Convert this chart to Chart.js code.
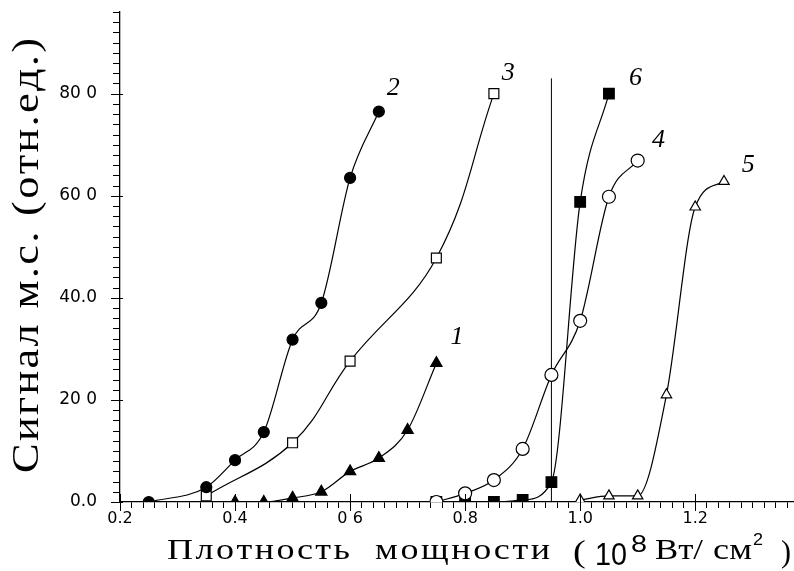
<!DOCTYPE html>
<html>
<head>
<meta charset="utf-8">
<script src="https://cdn.jsdelivr.net/npm/chart.js@4"></script>
<style>
  body { margin: 0; background: #fff; }
  canvas { display: block; }
</style>
</head>
<body>
<canvas id="chart" width="794" height="571"></canvas>
<script>
// values
var x1 = [0.40, 0.45, 0.50, 0.55, 0.60, 0.65, 0.70, 0.75];
var y1 = [0, 0, 0.8, 2.0, 6.0, 8.6, 14.1, 27.2];
var x2 = [0.25, 0.35, 0.40, 0.45, 0.50, 0.55, 0.60, 0.65];
var y2 = [0, 2.9, 8.2, 13.7, 31.8, 39.0, 63.5, 76.5];
var x3 = [0.35, 0.50, 0.60, 0.75, 0.85];
var y3 = [1.2, 11.6, 27.6, 47.8, 80.0];
var x4 = [0.75, 0.80, 0.85, 0.90, 0.95, 1.00, 1.05, 1.10];
var y4 = [0, 1.7, 4.3, 10.4, 24.9, 35.5, 59.8, 66.9];
var x5 = [1.00, 1.05, 1.10, 1.15, 1.20, 1.25];
var y5 = [0.4, 1.2, 1.2, 21.0, 57.8, 62.8];
var x6 = [0.75, 0.80, 0.85, 0.90, 0.95, 1.00, 1.05];
var y6 = [0, 0, 0, 0.4, 3.9, 58.8, 80.0];
var markX = [0.95, 0.95];
var markY = [0, 83];

var xTicks = [0.2, 0.4, 0.6, 0.8, 1.0, 1.2];
var xTickLabels = ["0.2", "0.4", "0 6", "0.8", "1.0", "1.2"];
var yTicks = [0, 20, 40, 60, 80];
var yTickLabels = ["0.0", "20 0", "40.0", "60 0", "80 0"];

var curveNames = ["1", "2", "3", "4", "5", "6"];
var nameX = [0.786, 0.675, 0.875, 1.136, 1.292, 1.096];
var nameY = [32.3, 81, 84, 70.8, 66, 83];

var yTitle = "Сигнал м.с. (отн.ед.)";

function pts(xs, ys) {
    return xs.map(function(x, i) {return {x: x, y: ys[i]};});
}

function series(xs, ys, style, r, fill, mode) {
    return {
        data: pts(xs, ys),
        borderColor: "#000",
        borderWidth: 1.2,
        pointStyle: style,
        pointRadius: r,
        pointBackgroundColor: fill,
        pointBorderColor: "#000",
        pointBorderWidth: 1.2,
        cubicInterpolationMode: mode || "monotone",
        tension: 0.4,
        fill: false
    };
}

function labelFor(list, labels, value) {
    for (var i = 0; i < list.length; i++) {
        if (Math.abs(list[i] - value) < 1e-6) return labels[i];
    }
    return "";
}

// draws text so that it spans exactly from left to right (typewriter look):
// glyphs are widened a little, the rest goes into the gaps
function fitText(ctx, text, left, right, base, font) {
    ctx.font = font;
    var chars = Array.from(text);
    var widths = chars.map(function(c) {return ctx.measureText(c).width;});
    var total = widths.reduce(function(a, b) {return a + b;}, 0);
    var target = right - left;
    var sx = Math.min(target / total, 1.2), gap = 0;
    if (chars.length > 1) gap = (target - total * sx) / (chars.length - 1);
    var x = left;
    chars.forEach(function(c, i) {
        ctx.save();
        ctx.translate(x, base);
        ctx.scale(sx, 1);
        ctx.fillText(c, 0, 0);
        ctx.restore();
        x += widths[i] * sx + gap;
    });
}

var textPlugin = {
    id: "texts",
    afterDatasetsDraw: function(chart) {
        var ctx = chart.ctx;
        var sx = chart.scales.x, sy = chart.scales.y;
        ctx.save();
        ctx.fillStyle = "#000";
        ctx.strokeStyle = "#000";
        ctx.lineWidth = 1;

        // major x ticks cross the axis line
        ctx.beginPath();
        xTicks.forEach(function(v) {
            var px = Math.round(sx.getPixelForValue(v)) + 0.5;
            ctx.moveTo(px, sy.bottom - 8);
            ctx.lineTo(px, sy.bottom + 9);
        });
        // y ticks, short, left of the axis
        sy.ticks.forEach(function(t) {
            var py = Math.round(sy.getPixelForValue(t.value)) + 0.5;
            var major = labelFor(yTicks, yTickLabels, t.value) !== "";
            ctx.moveTo(sx.left - (major ? 9 : 7), py);
            ctx.lineTo(sx.left + (major ? 3 : 0), py);
        });
        ctx.stroke();

        ctx.font = 'italic 26px "Liberation Serif"';
        ctx.textAlign = "center";
        ctx.textBaseline = "middle";
        for (var i = 0; i < curveNames.length; i++) {
            ctx.fillText(curveNames[i], sx.getPixelForValue(nameX[i]), sy.getPixelForValue(nameY[i]));
        }

        ctx.textAlign = "left";
        ctx.textBaseline = "alphabetic";
        var serif = '30px "Liberation Serif"';
        fitText(ctx, "Плотность", 167, 350, 559, serif);
        fitText(ctx, "мощности", 375, 550, 559, serif);
        fitText(ctx, "(", 573, 586, 562, '32px "Liberation Serif"');
        fitText(ctx, "10", 595, 627, 565, '31px "Liberation Sans"');
        fitText(ctx, "8", 631, 647, 552, '24px "Liberation Sans"');
        fitText(ctx, "Вт/", 655, 703, 559, serif);
        fitText(ctx, "см", 713, 752, 559, serif);
        fitText(ctx, "2", 753, 763, 545, '17px "Liberation Sans"');
        fitText(ctx, ")", 781, 791, 562, '32px "Liberation Serif"');

        ctx.translate(38, 473);
        ctx.rotate(-Math.PI / 2);
        fitText(ctx, yTitle, 0, 435, 0, '37px "Liberation Serif"');
        ctx.restore();
    }
};

new Chart(document.getElementById("chart"), {
    type: "line",
    data: {
        datasets: [
            series(x1, y1, "triangle", 6.5, "#000"),
            series(x2, y2, "circle", 5.5, "#000"),
            series(x3, y3, "rect", 7, "#fff", "default"),
            series(x4, y4, "circle", 6.5, "#fff"),
            series(x5, y5, "triangle", 6, "#fff"),
            series(x6, y6, "rect", 7.5, "#000"),
            {
                data: pts(markX, markY),
                borderColor: "#000",
                borderWidth: 1,
                pointRadius: 0
            }
        ]
    },
    options: {
        responsive: false,
        animation: false,
        devicePixelRatio: 1,
        layout: {autoPadding: false, padding: {top: 12, right: 1, left: 0, bottom: 0}},
        plugins: {legend: {display: false}, tooltip: {enabled: false}},
        scales: {
            x: {
                type: "linear",
                min: 0.2,
                max: 1.37,
                afterBuildTicks: function(scale) {
                    var t = [];
                    for (var i = 10; i <= 68; i++) t.push({value: i / 50});
                    scale.ticks = t;
                },
                afterFit: function(scale) {scale.height = 69;},
                grid: {drawOnChartArea: false, color: "#000", tickLength: 6, tickWidth: 1},
                border: {color: "#000", width: 1.3},
                ticks: {
                    autoSkip: false,
                    maxRotation: 0,
                    color: "#000",
                    padding: 1,
                    font: {family: "DejaVu Sans", size: 16},
                    callback: function(value) {return labelFor(xTicks, xTickLabels, value);}
                },
                title: {display: false}
            },
            y: {
                type: "linear",
                min: 0,
                max: 96,
                afterBuildTicks: function(scale) {
                    var t = [];
                    for (var i = 0; i <= 48; i++) t.push({value: i * 2});
                    scale.ticks = t;
                },
                afterFit: function(scale) {scale.width = 120;},
                grid: {drawOnChartArea: false, color: "#000", tickColor: "rgba(0,0,0,0)", tickLength: 20, tickWidth: 1},
                border: {color: "#000", width: 1.3},
                ticks: {
                    autoSkip: false,
                    color: "#000",
                    padding: 3,
                    font: {family: "DejaVu Sans", size: 17, lineHeight: 1},
                    callback: function(value) {return labelFor(yTicks, yTickLabels, value);}
                },
                title: {display: false}
            }
        }
    },
    plugins: [textPlugin]
});
</script>
</body>
</html>
